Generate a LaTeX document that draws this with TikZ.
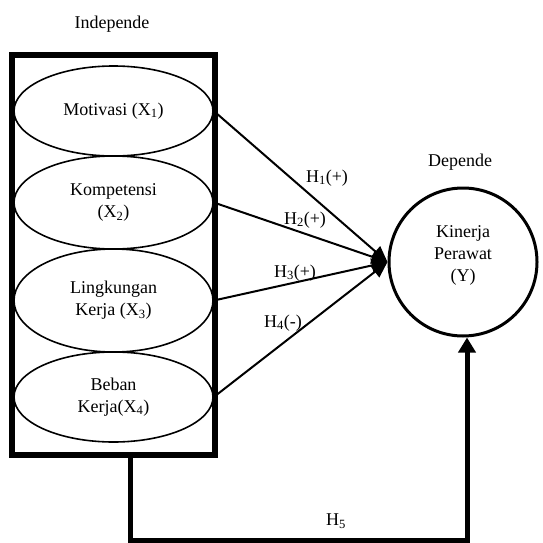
\documentclass[tikz,border=0pt]{standalone}
\usepackage{fontspec}
\setmainfont{Liberation Serif}
\usetikzlibrary{shapes.geometric,arrows.meta}

\begin{document}
\begin{tikzpicture}[x=1pt, y=-1pt,
      every node/.style={font=\fontsize{18}{22}\selectfont, align=center, inner sep=0pt},
      var/.style={ellipse, draw, line width=1.6pt, minimum width=199pt},
      hyp/.style={line width=2pt, -{Triangle[length=16pt, width=14pt]}}
    ]
    \useasboundingbox (0,0) rectangle (543,543);
    \node (indep) at (112,24) {Independe};
    \node (dep) at (460,162) {Depende};
    \node[draw, line width=6pt, minimum width=203pt, minimum height=400pt] (box) at (113.5,255) {};
    \node[var, minimum height=90pt] (m1) at (113.5,111) {Motivasi (X\textsubscript{1})};
    \node[var, minimum height=93pt] (m2) at (113.5,202.5) {Kompetensi\\(X\textsubscript{2})};
    \node[var, minimum height=103pt] (m3) at (113.5,300.5) {Lingkungan\\Kerja (X\textsubscript{3})};
    \node[var, minimum height=90pt] (m4) at (113.5,397) {Beban\\Kerja(X\textsubscript{4})};
    \node[circle, draw, line width=3pt, minimum size=148pt] (kp) at (463,262) {};
    \node (kpt) at (463,255) {Kinerja\\Perawat\\(Y)};
    \draw[hyp] (m1.east) -- (kp.west);
    \draw[hyp] (m2.east) -- (kp.west);
    \draw[hyp] (m3.east) -- (kp.west);
    \draw[hyp] (m4.east) -- (kp.west);
    \node (h1) at (327,178) {H\textsubscript{1}(+)};
    \node (h2) at (305,220) {H\textsubscript{2}(+)};
    \node (h3) at (295,273) {H\textsubscript{3}(+)};
    \node (h4) at (283,323) {H\textsubscript{4}(-)};
    % jalur langsung
    \coordinate (h5b) at (130,540);
    \draw[line width=5pt, -{Triangle[length=15pt, width=17pt]}] (h5b |- box.south) -- (h5b) -| ([xshift=4pt]kp.south);
    \node (h5) at (336,521) {H\textsubscript{5}};
\end{tikzpicture}
\end{document}
